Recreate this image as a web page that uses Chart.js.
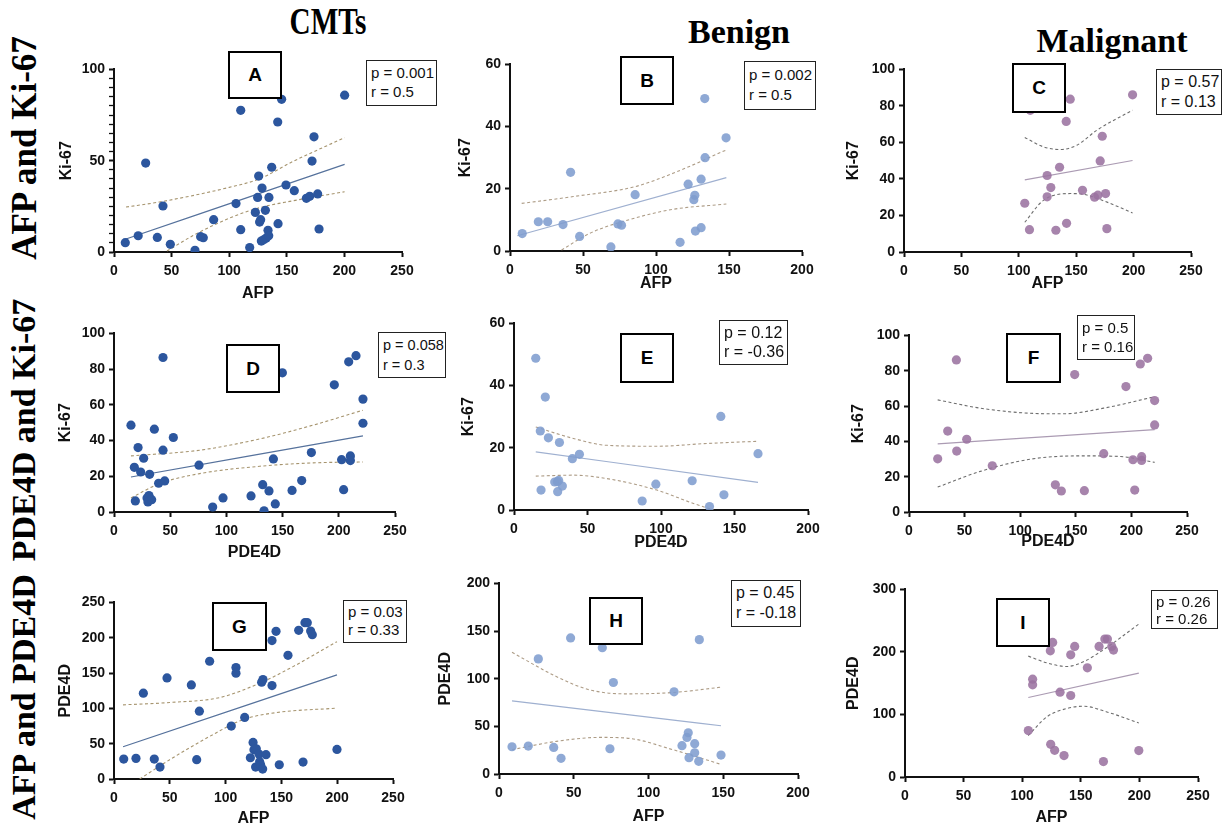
<!DOCTYPE html>
<html><head><meta charset="utf-8">
<script src="https://cdn.jsdelivr.net/npm/chart.js@4.4.1/dist/chart.umd.min.js"></script>
<style>
html,body{margin:0;padding:0;background:#fff;}
#wrap{position:relative;width:1222px;height:825px;overflow:hidden;background:#fff;}
canvas{position:absolute;}
.hdr{position:absolute;font-family:"Liberation Serif","Times New Roman",serif;font-weight:bold;font-size:34px;line-height:1;white-space:nowrap;color:#000;transform:translateX(-50%);transform-origin:50% 0;}
.row{position:absolute;font-family:"Liberation Serif","Times New Roman",serif;font-weight:bold;font-size:34px;line-height:1;white-space:nowrap;color:#000;transform:translate(-50%,-50%) rotate(-90deg);}
.lbl{position:absolute;box-sizing:border-box;border:2px solid #000;background:#fff;font-family:"Liberation Sans",Arial,sans-serif;font-weight:bold;font-size:19px;display:flex;align-items:center;justify-content:center;z-index:5;color:#000;}
.pr{position:absolute;box-sizing:border-box;border:1.5px solid #222;background:#fff;font-family:"Liberation Sans",Arial,sans-serif;padding:2px 0 0 4px;white-space:nowrap;z-index:5;color:#111;overflow:hidden;}
</style></head>
<body><div id="wrap">
<div class="hdr" style="left:328px;top:3px;transform:translateX(-50%) scale(0.86,1.1);">CMTs</div>
<div class="hdr" style="left:739px;top:15px;">Benign</div>
<div class="hdr" style="left:1112px;top:24px;">Malignant</div>
<div class="row" style="left:24px;top:148px;font-size:35px;">AFP and Ki-67</div>
<div class="row" style="left:24px;top:430px;">PDE4D and Ki-67</div>
<div class="row" style="left:24px;top:697px;">AFP and PDE4D</div>

<div class="lbl" style="left:228px;top:51px;width:54px;height:48px;">A</div>
<div class="lbl" style="left:620px;top:56px;width:54px;height:49px;">B</div>
<div class="lbl" style="left:1012px;top:63px;width:54px;height:50px;">C</div>
<div class="lbl" style="left:226px;top:344px;width:54px;height:49px;">D</div>
<div class="lbl" style="left:620px;top:333px;width:54px;height:50px;">E</div>
<div class="lbl" style="left:1006px;top:333px;width:55px;height:50px;">F</div>
<div class="lbl" style="left:212px;top:602px;width:55px;height:49px;">G</div>
<div class="lbl" style="left:589px;top:597px;width:54px;height:48px;">H</div>
<div class="lbl" style="left:996px;top:598px;width:54px;height:49px;">I</div>

<div class="pr" style="left:366px;top:60px;width:71px;height:46px;font-size:15px;line-height:19px;">p = 0.001<br>r = 0.5</div>
<div class="pr" style="left:744px;top:61px;width:72px;height:49px;font-size:15px;line-height:20px;padding-top:3px;">p = 0.002<br>r = 0.5</div>
<div class="pr" style="left:1156px;top:69px;width:66px;height:46px;font-size:16px;line-height:20px;">p = 0.57<br>r = 0.13</div>
<div class="pr" style="left:378px;top:332px;width:68px;height:46px;font-size:14.5px;line-height:20px;">p = 0.058<br>r = 0.3</div>
<div class="pr" style="left:719px;top:320px;width:69px;height:45px;font-size:16px;line-height:19px;">p = 0.12<br>r = -0.36</div>
<div class="pr" style="left:1077px;top:315px;width:58px;height:45px;font-size:15px;line-height:19px;">p = 0.5<br>r = 0.16</div>
<div class="pr" style="left:343px;top:600px;width:64px;height:43px;font-size:15px;line-height:18px;">p = 0.03<br>r = 0.33</div>
<div class="pr" style="left:731px;top:580px;width:70px;height:47px;font-size:16px;line-height:20px;">p = 0.45<br>r = -0.18</div>
<div class="pr" style="left:1151px;top:590px;width:67px;height:39px;font-size:15px;line-height:17px;">p = 0.26<br>r = 0.26</div>
</div>
<script>
// ---------- DATA ----------
// A: CMTs, AFP vs Ki-67
const A_AFP  = [9.8,21,27.5,37.6,42.5,48.9,70.3,75.2,77.5,86.5,105.9,110,110,117.8,122.7,125.6,124.7,126.4,127.3,128.5,127.9,130.2,131.4,132.2,133.7,134.3,134.5,136.9,142.1,142.4,145.5,149.3,156.5,167,169.9,171.9,173.6,176.8,178,200.2];
const A_KI67 = [5.1,8.9,48.7,8.0,25.2,4.2,0.9,8.4,7.8,17.7,26.5,77.6,12.2,2.4,21.7,41.6,29.9,16.4,17.7,35.0,6.0,6.8,22.8,7.7,11.9,8.9,29.9,46.4,71.2,15.5,83.6,36.7,33.6,29.4,30.5,49.8,63.1,31.8,12.6,85.9];
const A_FIT_X = [10.4,200.2], A_FIT_Y = [7.1,48.0];
const A_UP_X = [10.4,39.6,100.1,126.4,155.4,200.2], A_UP_Y = [24.6,27.4,35.4,40.1,49.6,62.6];
const A_LO_X = [46,68.6,100,126,155,200.2], A_LO_Y = [0.5,9.0,18.5,24.2,28.0,33.0];

// B: Benign, AFP vs Ki-67
const B_AFP  = [8.4,19.4,25.8,36.3,41.5,47.7,69.1,73.9,76.4,85.7,116.5,122,125.9,126.6,127,130.9,130.9,133.4,133.6,148];
const B_KI67 = [5.6,9.4,9.4,8.5,25.3,4.7,1.3,8.7,8.3,18.1,2.8,21.5,16.5,17.9,6.4,23.1,7.5,49.0,30.0,36.4];
const B_FIT_X = [5,148.2], B_FIT_Y = [4.9,23.6];
const B_UP_X = [8,43.3,85.7,111.7,148.2], B_UP_Y = [15.3,17.5,20.7,25,32.5];
const B_LO_X = [35.3,54.7,85.7,111.7,148.2], B_LO_Y = [0.3,5.7,10.6,13.4,15.1];

// C: Malignant, AFP vs Ki-67
const C_AFP  = [105.2,109.3,110,124.7,124.7,127.9,132.3,135.5,141.3,141.6,144.8,155.5,166,168.9,175.6,176.7,170.9,172.7,199.1];
const C_KI67 = [26.7,12.2,77.6,30.2,41.9,35.3,11.9,46.4,71.5,15.7,83.7,33.8,30.0,31.1,32.0,12.8,49.9,63.4,86.1];
const C_FIT_X = [105.2,199.1], C_FIT_Y = [39.5,50.1];
const C_UP_X = [105.2,121.5,136,150.6,168,199.1], C_UP_Y = [62.7,57.6,56.1,58.5,66.7,77.7];
const C_LO_X = [105.2,121.5,144.8,156.4,174,199.1], C_LO_Y = [16.3,28.3,32,31.6,28,21.4];

// D: CMTs, PDE4D vs Ki-67
const D_PDE4D = [15.1,21.4,18.1,19,23.7,26.4,29.4,31.1,30.2,31.7,33.5,35.9,39.7,43.6,43.6,45.1,52.8,75.6,87.8,97,121.9,132.3,133.5,137.9,141.8,143.5,149.8,158.4,167,175.6,196,202.5,204.3,208.8,210.3,210.3,215.3,221.5,221.5];
const D_KI67  = [48.6,36.1,25.0,6.2,22.4,30.1,7.9,9.2,5.6,21.1,6.9,46.4,16.1,86.5,34.6,17.4,41.7,26.2,2.8,7.9,9,15.3,0.7,11.8,29.7,4.5,77.9,12.1,17.6,33.3,71.2,29.3,12.5,84.1,31.4,28.8,87.5,63.2,49.7];
const D_FIT_X = [15.1,221.5], D_FIT_Y = [19.6,42.6];
const D_UP_X = [15.1,76.2,129.6,177,221.5], D_UP_Y = [31.4,34.6,40.9,48.6,57];
const D_LO_X = [15.1,40.6,76.2,129.6,177,221.5], D_LO_Y = [7.9,15.9,21.5,25.6,27.5,28];

// E: Benign, PDE4D vs Ki-67
const E_PDE4D = [14.8,17.9,18.4,21.3,23.4,27.7,29.5,29.7,30.4,30.9,32.9,39.7,44.5,87.2,96.5,121.2,133,140.7,142.8,166];
const E_KI67  = [48.8,25.4,6.4,36.3,23.2,9.0,9.1,5.9,9.5,21.7,7.7,16.5,17.9,2.9,8.3,9.4,1.1,30.1,4.9,18.1];
const E_FIT_X = [14.8,166], E_FIT_Y = [18.7,8.9];
const E_UP_X = [14.8,40.4,63.1,97.2,131.2,166], E_UP_Y = [26.7,23,20.8,20.5,21.4,22.1];
const E_LO_X = [14.8,40.4,63.1,97.2,122.1,135.8], E_LO_Y = [10.9,11.2,10.1,6.4,2.1,0];

// F: Malignant, PDE4D vs Ki-67
const F_PDE4D = [25.8,34.8,42.6,42.9,51.9,74.9,131.6,137,149,157.7,175.1,195.1,201.4,203,208,209.2,209.2,214.6,220.9,220.9];
const F_KI67  = [30.1,45.8,86.1,34.5,41.2,26.2,15.4,11.9,77.8,12.1,33,71,29.6,12.4,83.8,31.3,29.2,87,63.1,49.3];
const F_FIT_X = [25.8,220.9], F_FIT_Y = [38.6,46.7];
const F_UP_X = [25.8,64.1,109.1,139.1,175.1,220.9], F_UP_Y = [63.5,58.8,55.9,55.6,58.8,65.3];
const F_LO_X = [25.8,64.1,109.1,154.1,190,220.9], F_LO_Y = [14.1,23,29.9,31.8,31.4,28.1];

// G: CMTs, AFP vs PDE4D
const G_AFP   = [8.7,19.7,26.3,36.1,41.2,47.5,69.3,74.1,76.5,85.7,105.1,109.3,109.3,117.1,122.2,124.6,125.4,127.5,126.9,129.9,130.5,131.4,133.2,136.2,132.3,133.5,141.6,141.6,145.2,148.1,155.9,165.5,169.4,171.1,173.2,176.2,177.7,199.8,124,126];
const G_PDE4D = [28.2,29.2,121.5,28.2,16.9,143.1,133.2,27.3,96.0,166.7,74.9,157.7,149.7,87.1,30.1,51.8,41.4,42.8,16.9,35.3,24.5,20.2,14.1,34.4,137,140.8,132.3,195.9,209.1,20.2,175.1,210.5,24,221.3,221.3,209.5,204.3,41.9,201.8,215.2];
const G_FIT_X = [8.1,199.8], G_FIT_Y = [45.7,147.4];
const G_UP_X = [8.1,49.9,94.7,130.5,160.4,199.8], G_UP_Y = [105,108.3,115.3,135.6,159.1,194.4];
const G_LO_X = [23,49.9,85.7,115.6,145.5,199.8], G_LO_Y = [0,27.3,60.3,84,94,100.3];

// H: Benign, AFP vs PDE4D
const H_AFP   = [8.7,19.6,26.3,36.6,41.5,47.9,69.1,74.2,76.5,85.7,117.1,122.4,125.7,126.6,127.1,130.9,130.9,133.6,134,148.5];
const H_PDE4D = [28.6,29.3,120.8,27.9,16.4,142.8,132.6,26.5,96,166.7,86.2,29.7,38.4,43.3,17.1,31.8,22.3,13.3,141,19.9];
const H_FIT_X = [8.7,148.5], H_FIT_Y = [76.8,50.6];
const H_UP_X = [8.7,38.3,60.6,85.2,116.4,148.5], H_UP_Y = [127.7,102.3,88.3,84.1,85.5,91.1];
const H_LO_X = [8.7,38.3,67.3,85.2,116.4,148.5], H_LO_Y = [25.5,34.2,38.4,37.7,25.5,10.1];

// I: Malignant, AFP vs PDE4D
const I_AFP   = [105.2,108.9,108.9,124,126,124.3,127.7,132.3,135.7,141.4,141.4,144.8,155.6,165.6,169.3,170.5,172.7,176.4,177.9,199.5];
const I_PDE4D = [74.2,156.4,147.4,201.8,215.2,52.3,42.7,135.6,34.2,195.4,130.3,208.8,174.6,208.8,24.6,220.5,220.5,208.8,202.9,42.2];
const I_FIT_X = [105.2,199.5], I_FIT_Y = [127.1,166];
const I_UP_X = [105.2,120.9,138,152.2,172.2,199.5], I_UP_Y = [193.3,182.6,176.7,184.2,207.2,244.5];
const I_LO_X = [105.2,120.9,138,152.2,172.2,199.5], I_LO_Y = [66.2,96.1,109.5,113.2,104.1,86.5];

// ---------- STYLES ----------
const FONT = '"Liberation Sans", Arial, sans-serif';
const CMT = {pc:'#2c569e', lc:'#56729c', bc:'#a6946e'};
const BEN = {pc:'rgba(128,157,207,0.88)', lc:'#9fb0d0', bc:'#ad9c86'};
const MAL = {pc:'rgba(155,115,160,0.88)', lc:'#ab9bb3', bc:'#6e6e6e'};

const wrap = document.getElementById('wrap');
const YW = 64, PT = 12, PR = 24;

function pts(xs, ys){ return xs.map((x,i)=>({x:x, y:ys[i]})); }
function lineDs(xs, ys, color, dash, width){
  return {data: pts(xs, ys), showLine:true, pointRadius:0, borderColor:color, borderWidth:width,
          borderDash:dash, fill:false, cubicInterpolationMode:'monotone', order:2};
}

function makePanel(p){
  const tf = 16, lh = tf*1.2;
  const XH = Math.round(p.xty - p.B + lh/2 + 2);
  const left = p.L - YW, top = p.T - PT;
  const w = YW + (p.R - p.L) + PR, h = PT + (p.B - p.T) + XH;
  const cv = document.createElement('canvas');
  cv.width = w; cv.height = h;
  cv.style.left = left + 'px'; cv.style.top = top + 'px';
  cv.style.width = w + 'px'; cv.style.height = h + 'px';
  wrap.appendChild(cv);
  const ytPad = Math.max(0, p.ytx - left - lh/2);
  const minor = p.yMinor || 0;
  new Chart(cv, {
    type:'scatter',
    data:{datasets:[
      {data: pts(p.x, p.y), pointRadius:4.6, pointHoverRadius:4.6, backgroundColor:p.c.pc, borderWidth:0, order:0},
      lineDs(p.fx, p.fy, p.c.lc, [], 1.2),
      lineDs(p.ux, p.uy, p.c.bc, [3,2.5], 1.1),
      lineDs(p.lx, p.ly, p.c.bc, [3,2.5], 1.1)
    ]},
    options:{
      responsive:false, animation:false, devicePixelRatio:1, events:[],
      layout:{padding:{left:0, top:PT, right:PR, bottom:0}},
      plugins:{legend:{display:false}, tooltip:{enabled:false}},
      scales:{
        x:{type:'linear', min:0, max:p.xMax,
           ticks:{stepSize:p.xStep, font:{family:FONT, size:14, weight:'bold'}, color:'#111', padding:6, maxRotation:0, autoSkip:false},
           grid:{drawOnChartArea:false, drawTicks:true, tickLength:5, tickWidth:2, tickColor:'#111'},
           border:{display:true, color:'#111', width:2},
           title:{display:true, text:p.xt, font:{family:FONT, size:tf, weight:'bold'}, color:'#111', padding:{top:0, bottom:2}},
           afterFit:(s)=>{ s.height = XH; }},
        y:{type:'linear', min:0, max:p.yMax,
           ticks:{stepSize: minor || p.yStep, font:{family:FONT, size:14, weight:'bold'}, color:'#111', padding:4, autoSkip:false,
                  callback:(v)=> (v % p.yStep === 0 ? v : '')},
           grid:{drawOnChartArea:false, drawTicks:true, tickLength:5,
                 tickWidth:(ctx)=> (ctx.tick && ctx.tick.value % p.yStep !== 0 ? 1.3 : 2), tickColor:'#111'},
           border:{display:true, color:'#111', width:2},
           title:{display:true, text:p.yt, font:{family:FONT, size:tf, weight:'bold'}, color:'#111', padding:{top:ytPad, bottom:0}},
           afterFit:(s)=>{ s.width = YW; }}
      }
    }
  });
}

const PANELS = [
  {L:114,T:69,R:402,B:252, ytx:67, xty:293, x:A_AFP, y:A_KI67, fx:A_FIT_X, fy:A_FIT_Y, ux:A_UP_X, uy:A_UP_Y, lx:A_LO_X, ly:A_LO_Y, xMax:250, xStep:50, yMax:100, yStep:50, yMinor:5, xt:'AFP', yt:'Ki-67', c:CMT},
  {L:510,T:64,R:802,B:251, ytx:466, xty:283, x:B_AFP, y:B_KI67, fx:B_FIT_X, fy:B_FIT_Y, ux:B_UP_X, uy:B_UP_Y, lx:B_LO_X, ly:B_LO_Y, xMax:200, xStep:50, yMax:60, yStep:20, xt:'AFP', yt:'Ki-67', c:BEN},
  {L:904,T:69,R:1191,B:252, ytx:854, xty:283, x:C_AFP, y:C_KI67, fx:C_FIT_X, fy:C_FIT_Y, ux:C_UP_X, uy:C_UP_Y, lx:C_LO_X, ly:C_LO_Y, xMax:250, xStep:50, yMax:100, yStep:20, xt:'AFP', yt:'Ki-67', c:MAL},
  {L:114,T:333,R:395,B:512, ytx:66, xty:552, x:D_PDE4D, y:D_KI67, fx:D_FIT_X, fy:D_FIT_Y, ux:D_UP_X, uy:D_UP_Y, lx:D_LO_X, ly:D_LO_Y, xMax:250, xStep:50, yMax:100, yStep:20, xt:'PDE4D', yt:'Ki-67', c:CMT},
  {L:514,T:323,R:808,B:510, ytx:469, xty:542, x:E_PDE4D, y:E_KI67, fx:E_FIT_X, fy:E_FIT_Y, ux:E_UP_X, uy:E_UP_Y, lx:E_LO_X, ly:E_LO_Y, xMax:200, xStep:50, yMax:60, yStep:20, xt:'PDE4D', yt:'Ki-67', c:BEN},
  {L:909,T:335,R:1187,B:512, ytx:859, xty:541, x:F_PDE4D, y:F_KI67, fx:F_FIT_X, fy:F_FIT_Y, ux:F_UP_X, uy:F_UP_Y, lx:F_LO_X, ly:F_LO_Y, xMax:250, xStep:50, yMax:100, yStep:20, xt:'PDE4D', yt:'Ki-67', c:MAL},
  {L:114,T:602,R:393,B:779, ytx:66, xty:818, x:G_AFP, y:G_PDE4D, fx:G_FIT_X, fy:G_FIT_Y, ux:G_UP_X, uy:G_UP_Y, lx:G_LO_X, ly:G_LO_Y, xMax:250, xStep:50, yMax:250, yStep:50, xt:'AFP', yt:'PDE4D', c:CMT},
  {L:499,T:583,R:798,B:774, ytx:446, xty:816, x:H_AFP, y:H_PDE4D, fx:H_FIT_X, fy:H_FIT_Y, ux:H_UP_X, uy:H_UP_Y, lx:H_LO_X, ly:H_LO_Y, xMax:200, xStep:50, yMax:200, yStep:50, xt:'AFP', yt:'PDE4D', c:BEN},
  {L:905,T:589,R:1198,B:777, ytx:854, xty:817, x:I_AFP, y:I_PDE4D, fx:I_FIT_X, fy:I_FIT_Y, ux:I_UP_X, uy:I_UP_Y, lx:I_LO_X, ly:I_LO_Y, xMax:250, xStep:50, yMax:300, yStep:100, xt:'AFP', yt:'PDE4D', c:MAL}
];
PANELS.forEach(makePanel);
</script>
</body></html>
